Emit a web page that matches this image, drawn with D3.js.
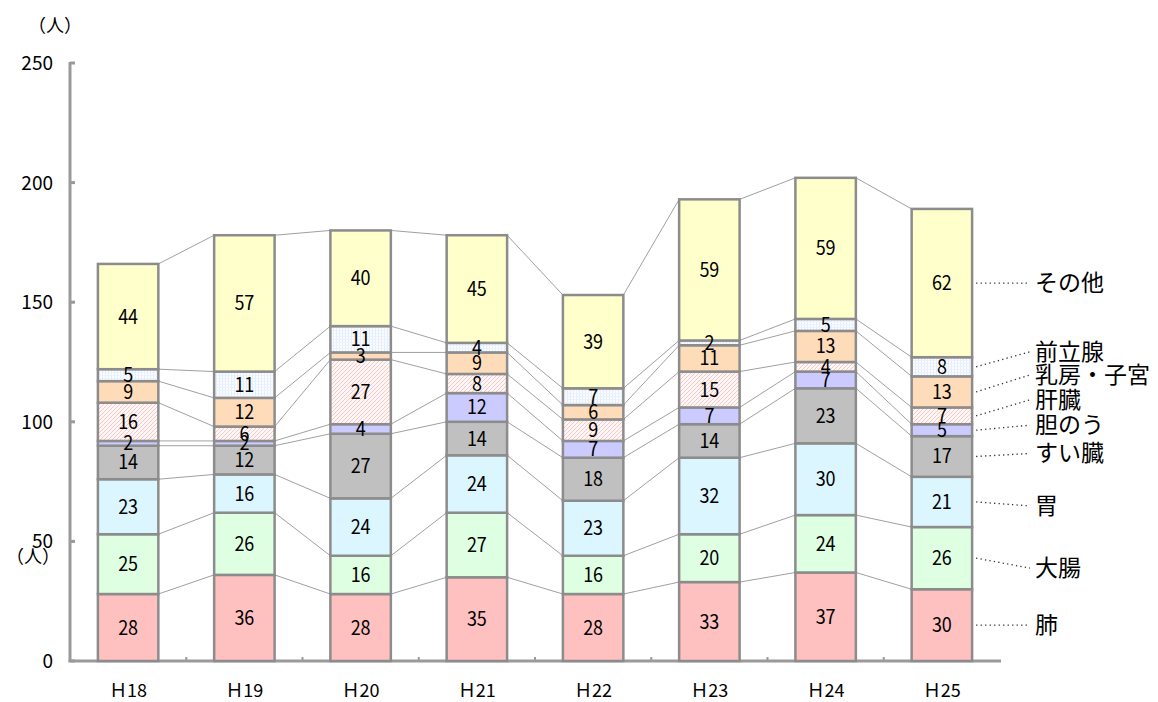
<!DOCTYPE html>
<html>
<head>
<meta charset="utf-8">
<script src="https://cdn.jsdelivr.net/npm/d3@7"></script>
<style>
  body { margin: 0; background: #fff; }
  svg { font-family: "Noto Sans CJK JP", "DejaVu Sans", sans-serif; }
</style>
</head>
<body>
<svg id="chart" width="1158" height="702"></svg>
<script>
// data
var years = ["Ｈ18", "Ｈ19", "Ｈ20", "Ｈ21", "Ｈ22", "Ｈ23", "Ｈ24", "Ｈ25"];
var sites = ["肺", "大腸", "胃", "すい臓", "胆のう", "肝臓", "乳房・子宮", "前立腺", "その他"];
var lung     = [28, 36, 28, 35, 28, 33, 37, 30];
var colon    = [25, 26, 16, 27, 16, 20, 24, 26];
var stomach  = [23, 16, 24, 24, 23, 32, 30, 21];
var pancreas = [14, 12, 27, 14, 18, 14, 23, 17];
var gall     = [2, 2, 4, 12, 7, 7, 7, 5];
var liver    = [16, 6, 27, 8, 9, 15, 4, 7];
var breast   = [9, 12, 3, 9, 6, 11, 13, 13];
var prostate = [5, 11, 11, 4, 7, 2, 5, 8];
var other    = [44, 57, 40, 45, 39, 59, 59, 62];
var yTicks = [0, 50, 100, 150, 200, 250];

var seriesVals = [lung, colon, stomach, pancreas, gall, liver, breast, prostate, other];
var fills = ["#ffc0c0", "#dfffe3", "#dcf6ff", "#c0c0c0", "#cbcbff", "url(#hatch)", "#ffdcb9", "url(#dots)", "#ffffcc"];
// legend label offsets (px) relative to the segment middle in the last bar
var labelShift = [0, 10, 4, -3, -5, -16, -17, -15, 0];

var svg = d3.select("#chart");

var table = years.map(function(y, i) {
  var row = { year: y };
  sites.forEach(function(s, k) { row[s] = seriesVals[k][i]; });
  return row;
});
var stacked = d3.stack().keys(sites)(table);

var x = d3.scaleBand().domain(years).range([70, 1000]).paddingInner(0.48).paddingOuter(0.24);
var y = d3.scaleLinear().domain([0, 250]).range([661, 63]);

// patterns
var defs = svg.append("defs");
var hatch = defs.append("pattern").attr("id", "hatch")
    .attr("patternUnits", "userSpaceOnUse").attr("width", 4).attr("height", 4);
hatch.append("rect").attr("width", 4).attr("height", 4).attr("fill", "#fff6f6");
hatch.append("path").attr("d", "M-1,1 l2,-2 M0,4 l4,-4 M3,5 l2,-2")
    .attr("stroke", "#f8bcbc").attr("stroke-width", 0.8);
var dots = defs.append("pattern").attr("id", "dots")
    .attr("patternUnits", "userSpaceOnUse").attr("width", 3).attr("height", 3);
dots.append("rect").attr("width", 3).attr("height", 3).attr("fill", "#fafcff");
dots.append("rect").attr("width", 1).attr("height", 3).attr("fill", "#e3eefc");
dots.append("rect").attr("width", 3).attr("height", 1).attr("fill", "#edf3fd");

// axes
svg.append("line").attr("x1", 70).attr("x2", 70).attr("y1", y(250) - 1).attr("y2", y(0) + 1)
    .attr("stroke", "#9a9a9a").attr("stroke-width", 3);
svg.append("line").attr("x1", 68.5).attr("x2", 1001).attr("y1", y(0)).attr("y2", y(0))
    .attr("stroke", "#9a9a9a").attr("stroke-width", 3);
svg.selectAll(".ytick").data(yTicks).enter().append("line")
    .attr("x1", 70).attr("x2", 75).attr("y1", function(d) { return y(d); }).attr("y2", function(d) { return y(d); })
    .attr("stroke", "#9a9a9a").attr("stroke-width", 3);
svg.selectAll(".ylab").data(yTicks).enter().append("text")
    .attr("x", 53).attr("y", function(d) { return y(d) + 7; })
    .attr("text-anchor", "end").attr("font-size", 19).attr("fill", "#000")
    .text(function(d) { return d; });
var step = x.step();
svg.selectAll(".xtick").data(years.slice(1)).enter().append("line")
    .attr("x1", function(d) { return x(d) - (step - x.bandwidth()) / 2; })
    .attr("x2", function(d) { return x(d) - (step - x.bandwidth()) / 2; })
    .attr("y1", y(0)).attr("y2", y(0) - 4)
    .attr("stroke", "#9a9a9a").attr("stroke-width", 2);
svg.selectAll(".xlab").data(years).enter().append("text")
    .attr("x", function(d) { return x(d) + x.bandwidth() / 2; }).attr("y", 697)
    .attr("text-anchor", "middle").attr("font-size", 18).attr("fill", "#000")
    .text(function(d) { return d; });

svg.append("text").attr("x", 28).attr("y", 32).attr("font-size", 18).text("（人）");
svg.append("text").attr("x", 6).attr("y", 563).attr("font-size", 18).text("（人）");

// series lines between bars
stacked.forEach(function(s) {
  for (var i = 0; i < years.length - 1; i++) {
    svg.append("line")
      .attr("x1", x(years[i]) + x.bandwidth()).attr("y1", y(s[i][1]))
      .attr("x2", x(years[i + 1])).attr("y2", y(s[i + 1][1]))
      .attr("stroke", "#a0a0a0").attr("stroke-width", 1);
  }
});

// bars
var layer = svg.selectAll(".layer").data(stacked).enter().append("g")
    .attr("fill", function(d, k) { return fills[k]; });
layer.selectAll("rect").data(function(d) { return d; }).enter().append("rect")
    .attr("x", function(d) { return x(d.data.year); })
    .attr("width", x.bandwidth())
    .attr("y", function(d) { return y(d[1]); })
    .attr("height", function(d) { return y(d[0]) - y(d[1]); })
    .attr("stroke", "#8c8c8c").attr("stroke-width", 2.5);

// value labels
stacked.forEach(function(s, k) {
  svg.selectAll(".v" + k).data(s).enter().append("text")
    .attr("x", function(d) { return x(d.data.year) + x.bandwidth() / 2; })
    .attr("y", function(d) { return (y(d[0]) + y(d[1])) / 2 + 7; })
    .attr("text-anchor", "middle").attr("font-size", 20).attr("fill", "#000")
    .text(function(d) { return d[1] - d[0]; })
    .attr("textLength", function(d) { return (d[1] - d[0]) >= 10 ? 20 : 10; })
    .attr("lengthAdjust", "spacingAndGlyphs");
});

// legend labels at the right of the last bar
var last = years.length - 1;
var x0 = x(years[last]) + x.bandwidth() + 4;
stacked.forEach(function(s, k) {
  var ym = (y(s[last][0]) + y(s[last][1])) / 2;
  var ly = ym + labelShift[k];
  svg.append("line").attr("x1", x0).attr("y1", ym).attr("x2", 1030).attr("y2", ly)
    .attr("stroke", "#333").attr("stroke-width", 1.3).attr("stroke-dasharray", "1.3,3.2");
  svg.append("text").attr("x", 1035).attr("y", ly + 8).attr("font-size", 23).attr("fill", "#000")
    .text(sites[k]);
});
</script>
</body>
</html>
